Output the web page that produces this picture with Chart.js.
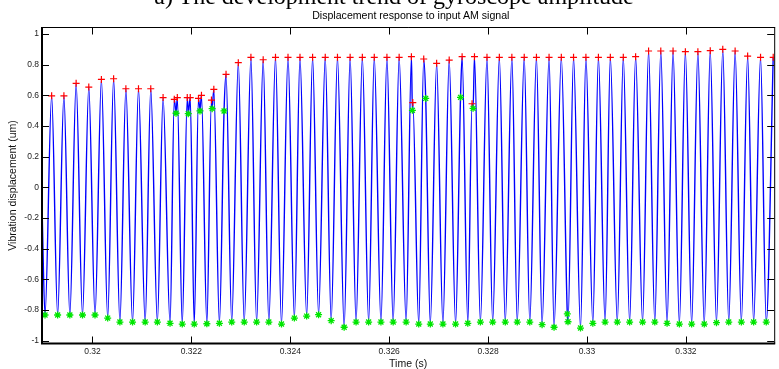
<!DOCTYPE html>
<html><head><meta charset="utf-8">
<script src="https://cdn.jsdelivr.net/npm/chart.js@4.4.0/dist/chart.umd.min.js"></script>
<style>
html,body{margin:0;padding:0;background:#fff;overflow:hidden}
#wrap{position:relative;width:779px;height:369px;overflow:hidden;background:#fff}
canvas{position:absolute;left:0;top:0}
#t1{position:absolute;left:0;top:-16.1px;width:788px;text-align:center;font:24px/24px 'Liberation Serif','Times New Roman',serif;color:#000;white-space:nowrap}
#t2{position:absolute;left:0;top:10px;width:821.6px;text-align:center;font:10.6px/10.6px 'Liberation Sans',Arial,sans-serif;color:#000;white-space:nowrap}
</style></head><body>
<div id="wrap">
<canvas id="c" width="779" height="369"></canvas>
<div id="t1">a) The development trend of gyroscope amplitude</div>
<div id="t2">Displacement response to input AM signal</div>
</div>
<script>
// ---- data ----
const peakTimes = [0.319175,0.319423,0.319670,0.319926,0.320181,0.320428,0.320676,0.320931,0.321179,0.321428,
  0.321716,0.321977,0.322204,0.322454,0.322701,0.322949,0.323204,0.323452,0.323701,0.323954,
  0.324196,0.324451,0.324707,0.324954,0.325210,0.325457,0.325698,0.325954,0.326201,0.326449,
  0.326698,0.326959,0.327213,0.327474,0.327724,0.327977,0.328227,0.328480,0.328730,0.328977,
  0.329232,0.329480,0.329727,0.329977,0.330230,0.330471,0.330733,0.330982,0.331244,0.331491,
  0.331739,0.331988,0.332241,0.332491,0.332744,0.332994,0.333247,0.333508,0.333764];
const peakValues = [0.597,0.597,0.678,0.654,0.704,0.708,0.643,0.643,0.643,0.585,
  0.585,0.585,0.600,0.639,0.737,0.813,0.848,0.832,0.848,0.848,
  0.848,0.848,0.848,0.848,0.848,0.848,0.848,0.848,0.848,0.852,
  0.837,0.809,0.830,0.852,0.852,0.848,0.848,0.848,0.848,0.848,
  0.848,0.848,0.848,0.848,0.848,0.848,0.848,0.852,0.889,0.889,
  0.889,0.885,0.885,0.891,0.900,0.889,0.856,0.848,0.848];
const troughTimes = [0.319041,0.319296,0.319543,0.319799,0.320052,0.320308,0.320555,0.320811,0.321066,0.321313,
  0.321569,0.321816,0.322058,0.322313,0.322567,0.322816,0.323069,0.323319,0.323566,0.323822,
  0.324083,0.324331,0.324572,0.324827,0.325089,0.325330,0.325584,0.325833,0.326080,0.326342,
  0.326597,0.326831,0.327086,0.327342,0.327589,0.327844,0.328092,0.328347,0.328589,0.328842,
  0.329091,0.329333,0.329615,0.329868,0.330117,0.330365,0.330612,0.330861,0.331123,0.331370,
  0.331618,0.331867,0.332115,0.332370,0.332617,0.332865,0.333120,0.333368,0.333623];
const troughValues = [-0.833,-0.833,-0.833,-0.833,-0.833,-0.853,-0.879,-0.879,-0.879,-0.879,
  -0.887,-0.892,-0.892,-0.890,-0.887,-0.879,-0.879,-0.879,-0.879,-0.892,
  -0.853,-0.840,-0.831,-0.870,-0.913,-0.879,-0.879,-0.879,-0.879,-0.879,
  -0.892,-0.892,-0.892,-0.892,-0.887,-0.879,-0.879,-0.879,-0.879,-0.879,
  -0.896,-0.913,-0.877,-0.918,-0.887,-0.879,-0.879,-0.879,-0.879,-0.879,
  -0.887,-0.892,-0.892,-0.892,-0.883,-0.879,-0.879,-0.879,-0.879];
// extra (spurious) detections
const extraPeakTimes = [0.321655,0.321917,0.322144,0.322406,0.326477,0.327675];
const extraPeakValues = [0.574,0.585,0.580,0.569,0.553,0.545];
const extraTroughTimes = [0.321690,0.321937,0.322174,0.322420,0.322661,0.326469,0.326738,0.327442,0.327696,0.329601];
const extraTroughValues = [0.483,0.480,0.498,0.513,0.498,0.502,0.580,0.587,0.515,-0.826];
// signal value at the left edge of the axes
const lineStartTime = 0.31898;
const lineStartValue = -0.12;

const xTickValues = [0.32,0.322,0.324,0.326,0.328,0.33,0.332];
const xTickLabels = ['0.32','0.322','0.324','0.326','0.328','0.33','0.332'];
const yTickValues = [-1,-0.8,-0.6,-0.4,-0.2,0,0.2,0.4,0.6,0.8,1];
const yTickLabels = ['-1','-0.8','-0.6','-0.4','-0.2','0','0.2','0.4','0.6','0.8','1'];

const xMin = 0.31898, xMax = 0.333784;
const yMin = -1.0189, yMax = 1.0424;

// ---- build datasets ----
const zip = (ts, vs) => ts.map((t, i) => ({x: t, y: vs[i]}));
const redPts = zip(peakTimes, peakValues).concat(zip(extraPeakTimes, extraPeakValues));
const greenPts = zip(troughTimes, troughValues).concat(zip(extraTroughTimes, extraTroughValues));
const linePts = [{x: lineStartTime, y: lineStartValue}].concat(redPts, greenPts).sort((a, b) => a.x - b.x);

const boxPlugin = {
  id: 'box',
  afterDraw(chart) {
    const {ctx, chartArea: {left, right, top, bottom}, scales: {x, y}} = chart;
    ctx.save();
    ctx.strokeStyle = '#000';
    ctx.lineWidth = 1;
    ctx.beginPath();
    xTickValues.forEach(v => {
      const px = Math.round(x.getPixelForValue(v)) + 0.5;
      ctx.moveTo(px, bottom); ctx.lineTo(px, bottom - 7);
      ctx.moveTo(px, top); ctx.lineTo(px, top + 7);
    });
    yTickValues.forEach(v => {
      const py = Math.round(y.getPixelForValue(v)) + 0.5;
      ctx.moveTo(left, py); ctx.lineTo(left + 7, py);
      ctx.moveTo(right, py); ctx.lineTo(right - 7, py);
    });
    ctx.stroke();
    ctx.beginPath();
    ctx.moveTo(left - 1, top); ctx.lineTo(right + 1, top);
    ctx.moveTo(right + 0.5, top); ctx.lineTo(right + 0.5, bottom);
    ctx.stroke();
    ctx.lineWidth = 2;
    ctx.beginPath();
    ctx.moveTo(left, top); ctx.lineTo(left, bottom + 1);
    ctx.moveTo(left - 1, bottom); ctx.lineTo(right + 1, bottom);
    ctx.stroke();
    ctx.restore();
  }
};

new Chart(document.getElementById('c'), {
  type: 'line',
  data: {
    datasets: [
      {data: redPts, showLine: false, pointStyle: 'cross', pointRadius: 3.5, pointHoverRadius: 3.5,
       pointBorderColor: '#ff0000', pointBorderWidth: 1.2, borderColor: '#ff0000', order: 1},
      {data: greenPts, showLine: false, pointStyle: 'star', pointRadius: 3.5, pointHoverRadius: 3.5,
       pointBorderColor: '#00e600', pointBorderWidth: 1.3, borderColor: '#00e600', order: 0},
      {data: linePts, borderColor: '#0000ff', borderWidth: 1.4, pointRadius: 0, fill: false,
       cubicInterpolationMode: 'monotone', order: 2}
    ]
  },
  options: {
    responsive: false, animation: false, events: [],
    layout: {padding: {top: 27.5, right: 1, left: 0, bottom: 0}},
    plugins: {legend: {display: false}, tooltip: {enabled: false}, title: {display: false}},
    scales: {
      x: {
        type: 'linear', min: xMin, max: xMax,
        grid: {display: false, drawTicks: false}, border: {display: false},
        afterBuildTicks: s => { s.ticks = xTickValues.map(v => ({value: v})); },
        afterFit: s => { s.height = 25.5; },
        ticks: {padding: 2.6, color: '#222', font: {family: "'Liberation Sans', Arial, sans-serif", size: 8.5},
          maxRotation: 0, autoSkip: false, callback: (v, i) => xTickLabels[i]},
        title: {display: true, text: 'Time (s)', color: '#111', padding: {top: 0, bottom: 0},
          font: {family: "'Liberation Sans', Arial, sans-serif", size: 10.5, lineHeight: 1}}
      },
      y: {
        type: 'linear', min: yMin, max: yMax,
        grid: {display: false, drawTicks: false}, border: {display: false},
        afterBuildTicks: s => { s.ticks = yTickValues.map(v => ({value: v})); },
        afterFit: s => { s.width = 42; },
        ticks: {padding: 3, color: '#222', font: {family: "'Liberation Sans', Arial, sans-serif", size: 8.5},
          autoSkip: false, callback: (v, i) => yTickLabels[i]},
        title: {display: true, text: 'Vibration displacement (um)', color: '#111', padding: {top: 8, bottom: 0},
          font: {family: "'Liberation Sans', Arial, sans-serif", size: 10.5, lineHeight: 1}}
      }
    }
  },
  plugins: [boxPlugin]
});
</script>
</body></html>
